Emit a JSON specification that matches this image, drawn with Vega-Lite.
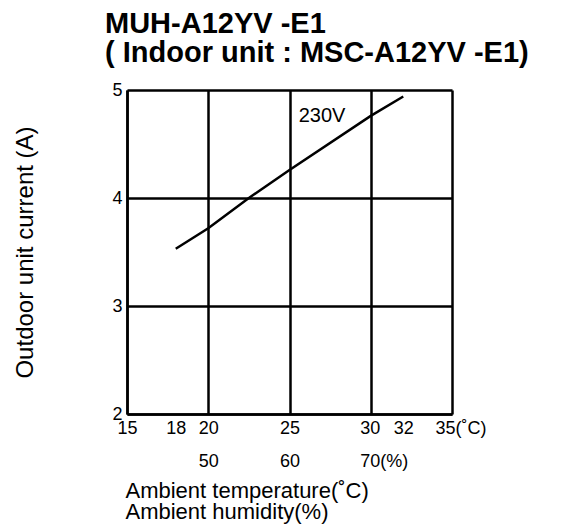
{
  "$schema": "https://vega.github.io/schema/vega-lite/v6.json",
  "autosize": "none",
  "width": 325,
  "height": 324,
  "padding": {"left": 127, "top": 90, "right": 136, "bottom": 117},
  "background": "white",
  "config": {
    "font": "Liberation Sans",
    "view": {"stroke": null}
  },
  "title": {
    "text": ["MUH-A12YV -E1", "( Indoor unit : MSC-A12YV -E1)"],
    "anchor": "start",
    "frame": "group",
    "dx": -22,
    "offset": 13,
    "font": "Liberation Sans",
    "fontSize": 29,
    "fontWeight": "bold",
    "lineHeight": 29,
    "color": "black"
  },
  "datasets": {
    "curve": [
      {"temp": 18, "current": 3.53},
      {"temp": 20, "current": 3.72},
      {"temp": 22.5, "current": 4.0},
      {"temp": 25, "current": 4.26},
      {"temp": 30, "current": 4.76},
      {"temp": 32, "current": 4.94}
    ],
    "labels": [
      {"temp": 27, "current": 4.76, "label": "230V"}
    ]
  },
  "layer": [
    {
      "data": {"name": "curve"},
      "mark": {"type": "line", "color": "black", "strokeWidth": 2.5},
      "encoding": {
        "x": {
          "field": "temp",
          "type": "quantitative",
          "scale": {"domain": [15, 35], "nice": false, "zero": false},
          "axis": {
            "values": [15, 18, 20, 25, 30, 32, 35],
            "ticks": false,
            "domainColor": "black",
            "domainWidth": 2.5,
            "grid": true,
            "gridColor": "black",
            "gridWidth": 2.5,
            "gridOpacity": {"condition": {"test": "datum.value == 18 || datum.value == 32", "value": 0}, "value": 1},
            "labelExpr": "datum.value == 20 ? ['20','50'] : datum.value == 25 ? ['25','60'] : datum.value == 30 ? ['30','70(%)'] : datum.value == 35 ? '35(˚C)' : datum.label",
            "labelFontSize": 18,
            "labelColor": "black",
            "labelBaseline": "top",
            "labelPadding": 5,
            "labelLineHeight": 33,
            "labelAlign": {"condition": {"test": "datum.value == 30 || datum.value == 35", "value": "left"}, "value": "center"},
            "labelOffset": {"condition": [{"test": "datum.value == 30", "value": -11}, {"test": "datum.value == 35", "value": -17}], "value": 0},
            "labelOverlap": false,
            "labelFlush": false,
            "title": ["Ambient temperature(˚C)", "Ambient humidity(%)"],
            "titleFontSize": 22,
            "titleFontWeight": "normal",
            "titleColor": "black",
            "titleAlign": "left",
            "titleBaseline": "top",
            "titleLineHeight": 21,
            "titleX": -2,
            "titleY": 66
          }
        },
        "y": {
          "field": "current",
          "type": "quantitative",
          "scale": {"domain": [2, 5], "nice": false, "zero": false},
          "axis": {
            "values": [2, 3, 4, 5],
            "format": "d",
            "ticks": false,
            "domainColor": "black",
            "domainWidth": 2.5,
            "grid": true,
            "gridColor": "black",
            "gridWidth": 2.5,
            "gridOpacity": 1,
            "labelFontSize": 18,
            "labelColor": "black",
            "labelPadding": 5,
            "labelOverlap": false,
            "labelFlush": false,
            "title": "Outdoor unit current (A)",
            "titleFontSize": 24,
            "titleFontWeight": "normal",
            "titleColor": "black",
            "titleAngle": -90,
            "titleAlign": "center",
            "titleBaseline": "middle",
            "titleX": -102,
            "titleY": 162
          }
        }
      }
    },
    {
      "data": {"name": "labels"},
      "mark": {"type": "text", "fontSize": 20, "color": "black", "align": "center", "baseline": "middle"},
      "encoding": {
        "x": {"field": "temp", "type": "quantitative"},
        "y": {"field": "current", "type": "quantitative"},
        "text": {"field": "label"}
      }
    }
  ]
}
